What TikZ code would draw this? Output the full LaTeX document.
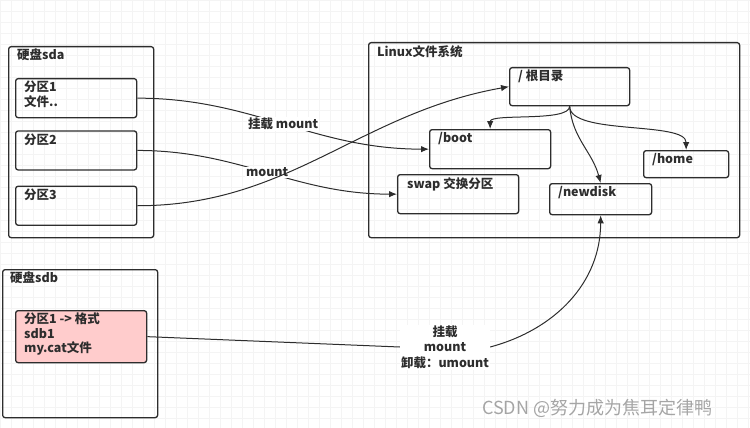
\documentclass[tikz,border=0pt]{standalone}
\usepackage{fontspec}
\setmainfont{Noto Sans CJK SC}
\usetikzlibrary{arrows.meta,positioning}
\definecolor{ink}{RGB}{45,45,45}
\definecolor{blush}{RGB}{255,204,204}
\definecolor{paper}{RGB}{244,244,244}
\definecolor{markc}{RGB}{165,165,165}
\tikzset{box/.style={draw=ink,line width=1.3pt,rounded corners=2.5pt,anchor=north west,inner sep=0pt},txt/.style={anchor=north west,align=left,inner sep=0pt,xshift=9pt,yshift=-3pt,font=\bfseries\fontsize{12.5}{14.5}\selectfont,text=ink},flow/.style={-{Latex[length=8pt,width=6.5pt]},line width=1pt,draw=ink},lnk/.style={line width=1pt,draw=ink},tag/.style={fill=white,inner sep=1pt,align=center,font=\bfseries\fontsize{12.5}{15.5}\selectfont,text=ink}}
\begin{document}
\begin{tikzpicture}[x=1pt,y=-1pt]
\useasboundingbox (0,0) rectangle (750,428);
\draw[paper,step=11pt] (0,0) grid (750,428);
% disk sda
\node[box,minimum width=145pt,minimum height=191pt,label={[txt]north west:硬盘sda}] (sda) at (8,46) {};
\node[box,minimum width=121pt,minimum height=39pt,label={[txt]north west:分区1\\文件..}] (p1) at (15,78) {};
\node[box,minimum width=121pt,minimum height=39pt,label={[txt]north west:分区2},below=12pt of p1] (p2) {};
\node[box,minimum width=121pt,minimum height=39pt,label={[txt]north west:分区3},below=15pt of p2] (p3) {};
% file system
\node[box,minimum width=371pt,minimum height=195pt,label={[txt]north west:Linux文件系统}] (linux) at (368,42) {};
\node[box,minimum width=120pt,minimum height=38pt,label={[txt]north west:/ 根目录}] (root) at (509,67) {};
\node[box,minimum width=121pt,minimum height=39pt,label={[txt]north west:/boot}] (boot) at (429,129) {};
\node[box,minimum width=121pt,minimum height=39pt,label={[txt,xshift=1pt]north west:swap 交换分区}] (swap) at (397,174) {};
\node[box,minimum width=102pt,minimum height=31pt,label={[txt]north west:/newdisk}] (newdisk) at (549,183) {};
\node[box,minimum width=85pt,minimum height=27pt,label={[txt]north west:/home}] (home) at (643,150) {};
% disk sdb
\node[box,minimum width=155pt,minimum height=148pt,label={[txt,xshift=-1pt]north west:硬盘sdb}] (sdb) at (2,269) {};
\node[box,fill=blush,minimum width=131pt,minimum height=52pt,label={[txt]north west:分区1 -> 格式\\sdb1\\my.cat文件}] (sdb1) at (15,310) {};
% mounts
\draw[flow] (p1.east) to[out=0,in=180] node[tag]{挂载 mount} (boot.west);
\draw[flow] (p2.east) to[out=0,in=180] node[tag]{mount} (swap.west);
\draw[flow] (p3.east) to[out=0,in=190] (root.west);
\node[tag] (mnt) at (445,347) {挂载\\mount\\卸载：umount};
\draw[lnk] (sdb1.east) -- (mnt.west);
\draw[flow] (mnt.east) to[out=15,in=-90] (newdisk.south);
% tree
\draw[flow] (root.south) to[out=-90,in=90,looseness=0.5] (boot.north);
\draw[flow] (root.south) to[out=-85,in=105] (newdisk.north);
\draw[flow] (root.south) to[out=-90,in=90,looseness=0.6] (home.north);
\node[anchor=west,inner sep=0pt,text=markc,font=\fontsize{18}{18}\selectfont] (mark) at (482,408) {CSDN @努力成为焦耳定律鸭};
\end{tikzpicture}
\end{document}
